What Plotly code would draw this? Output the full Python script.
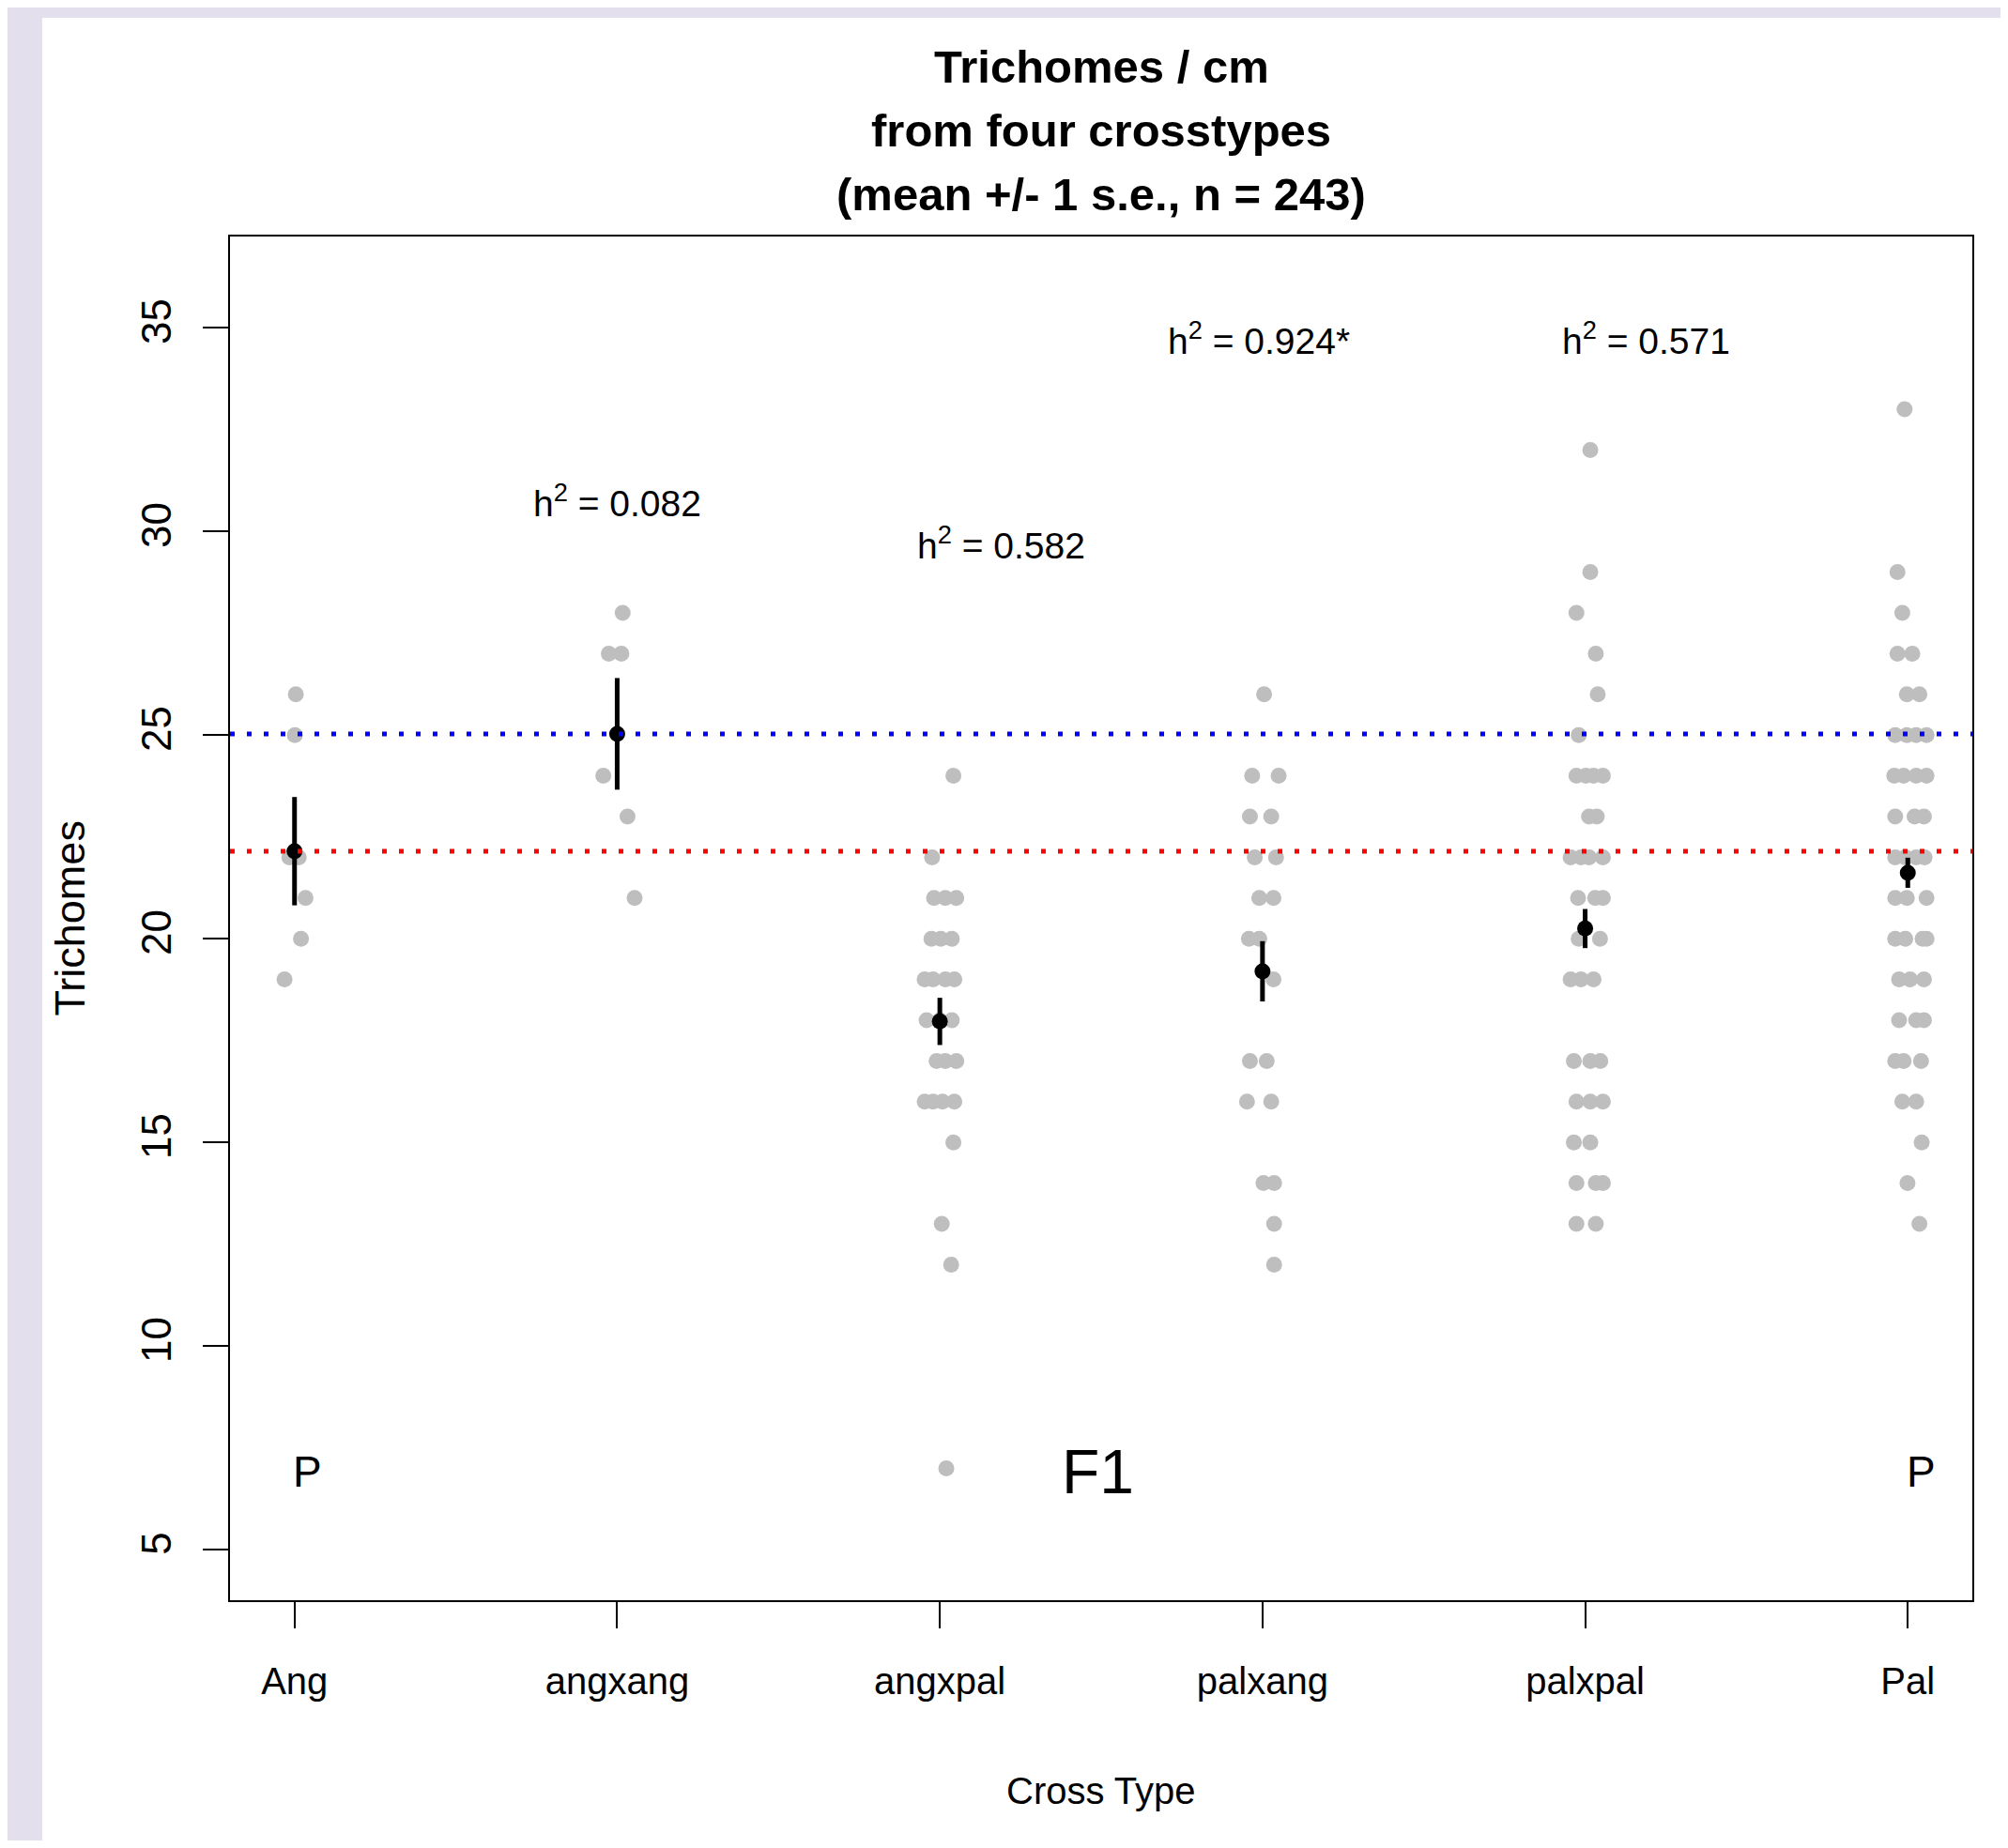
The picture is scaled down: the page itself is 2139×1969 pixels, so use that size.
import plotly.graph_objects as go

# ---------------- data ----------------
categories = ["Ang", "angxang", "angxpal", "palxang", "palxpal", "Pal"]

ang_vals = [26, 25, 22, 22, 21, 20, 19]
ang_jit = [0.004, 0.001, -0.016, 0.013, 0.034, 0.020, -0.031]

angxang_vals = [28, 27, 27, 24, 23, 21]
angxang_jit = [0.017, -0.026, 0.013, -0.043, 0.032, 0.054]

angxpal_vals = [24, 22, 21, 21, 21, 20, 20, 20, 19, 19, 19, 19, 18, 18, 18,
                17, 17, 17, 16, 16, 16, 16, 15, 13, 12, 7]
angxpal_jit = [0.042, -0.024, -0.018, 0.017, 0.051, -0.026, 0.003, 0.037,
               -0.047, -0.021, 0.017, 0.045, -0.041, 0.0, 0.037,
               -0.010, 0.017, 0.051, -0.047, -0.021, 0.008, 0.045,
               0.042, 0.006, 0.035, 0.020]

palxang_vals = [26, 24, 24, 23, 23, 22, 22, 21, 21, 20, 20, 19, 17, 17,
                16, 16, 14, 14, 13, 12]
palxang_jit = [0.005, -0.032, 0.050, -0.039, 0.027, -0.024, 0.042, -0.010,
               0.034, -0.042, -0.010, 0.034, -0.039, 0.013, -0.048, 0.027,
               0.003, 0.036, 0.036, 0.036]

palxpal_vals = [32, 29, 28, 27, 26, 25, 24, 24, 24, 24, 23, 23, 22, 22, 22, 22,
                21, 21, 21, 20, 20, 19, 19, 19, 17, 17, 17, 16, 16, 16,
                15, 15, 14, 14, 14, 13, 13]
palxpal_jit = [0.016, 0.016, -0.027, 0.033, 0.039, -0.020, -0.027, 0.002,
               0.026, 0.055, 0.012, 0.036, -0.045, -0.013, 0.012, 0.055,
               -0.022, 0.031, 0.055, -0.020, 0.046, -0.045, -0.013, 0.026,
               -0.035, 0.016, 0.047, -0.027, 0.016, 0.055, -0.035, 0.016,
               -0.027, 0.033, 0.055, -0.027, 0.033]

pal_vals = [33, 29, 28, 27, 27, 26, 26, 25, 25, 25, 25, 24, 24, 24, 24,
            23, 23, 23, 22, 22, 22, 22, 21, 21, 21, 20, 20, 20, 20,
            19, 19, 19, 18, 18, 18, 17, 17, 17, 16, 16, 15, 14, 13]
pal_jit = [-0.010, -0.032, -0.017, -0.032, 0.014, -0.003, 0.036,
           -0.039, -0.003, 0.026, 0.058, -0.042, -0.013, 0.026, 0.058,
           -0.039, 0.021, 0.050, -0.039, -0.008, 0.026, 0.052,
           -0.039, -0.003, 0.058, -0.039, -0.008, 0.046, 0.058,
           -0.027, 0.007, 0.050, -0.027, 0.026, 0.050, -0.039, -0.013, 0.041,
           -0.017, 0.026, 0.043, -0.001, 0.036]

group_vals = [ang_vals, angxang_vals, angxpal_vals, palxang_vals, palxpal_vals, pal_vals]
group_jit = [ang_jit, angxang_jit, angxpal_jit, palxang_jit, palxpal_jit, pal_jit]

means = [22.15, 25.03, 17.97, 19.20, 20.25, 21.62]
ses = [1.33, 1.37, 0.58, 0.74, 0.48, 0.37]

h2_labels = ["h<sup>2</sup> = 0.082", "h<sup>2</sup> = 0.582",
             "h<sup>2</sup> = 0.924*", "h<sup>2</sup> = 0.571"]
h2_x = [2.0, 3.19, 3.99, 5.19]
h2_y = [30.75, 29.72, 34.75, 34.75]

gen_labels = ["P", "F1", "P"]
gen_x = [1.04, 3.49, 6.04]
gen_y = [6.92, 6.92, 6.92]

yticks = [5, 10, 15, 20, 25, 30, 35]

# ---------------- figure ----------------
FONT = "Liberation Sans, Arial, Helvetica, sans-serif"

fig = go.Figure()

xs, ys = [], []
for i, (vals, jit) in enumerate(zip(group_vals, group_jit)):
    for v, j in zip(vals, jit):
        xs.append(i + 1 + j)
        ys.append(v)

fig.add_trace(go.Scatter(
    x=xs, y=ys, mode="markers",
    marker=dict(color="#BEBEBE", size=17, line=dict(width=0)),
    showlegend=False, hoverinfo="y"))

fig.add_trace(go.Scatter(
    x=list(range(1, len(categories) + 1)), y=means, mode="markers",
    marker=dict(color="black", size=17, line=dict(width=0)),
    error_y=dict(type="data", array=ses, visible=True, color="black",
                 thickness=5, width=0),
    showlegend=False))

# reference lines: parent means (Ang = red, angxang = blue)
fig.add_shape(type="line", xref="paper", x0=0, x1=1, yref="y",
              y0=means[1], y1=means[1], layer="above",
              line=dict(color="#0000FF", width=5, dash="5px,13px"))
fig.add_shape(type="line", xref="paper", x0=0, x1=1, yref="y",
              y0=means[0], y1=means[0], layer="above",
              line=dict(color="#FF0000", width=5, dash="5px,13px"))

# white page area over lavender background
fig.add_shape(type="rect", xref="paper", yref="paper",
              x0=-0.1078, x1=1.1, y0=-0.3, y1=1.1604,
              fillcolor="white", line=dict(width=0), layer="below")

annotations = []
for t, x, y in zip(h2_labels, h2_x, h2_y):
    annotations.append(dict(x=x, y=y, xref="x", yref="y", text=t,
                            showarrow=False, xanchor="center", yanchor="middle",
                            font=dict(family=FONT, size=39, color="black")))
for t, x, y in zip(gen_labels, gen_x, gen_y):
    annotations.append(dict(x=x, y=y, xref="x", yref="y", text=t,
                            showarrow=False, xanchor="center", yanchor="middle",
                            font=dict(family=FONT, size=66 if t == "F1" else 46,
                                      color="black")))

title_lines = ["Trichomes / cm", "from four crosstypes", "(mean +/- 1 s.e., n = 243)"]
title_y = [1.1246, 1.0778, 1.031]
for t, y in zip(title_lines, title_y):
    annotations.append(dict(x=0.5, y=y, xref="paper", yref="paper", text="<b>" + t + "</b>",
                            showarrow=False, xanchor="center", yanchor="middle",
                            font=dict(family=FONT, size=49, color="black")))

annotations.append(dict(x=0.5, y=-0.1395, xref="paper", yref="paper", text="Cross Type",
                        showarrow=False, xanchor="center", yanchor="middle",
                        font=dict(family=FONT, size=40, color="black")))
annotations.append(dict(x=-0.0916, y=0.5, xref="paper", yref="paper", text="Trichomes",
                        showarrow=False, xanchor="center", yanchor="middle", textangle=-90,
                        font=dict(family=FONT, size=45, color="black")))

# page body has an 8px margin: size/margins chosen so the plot box lands where it should
fig.update_layout(
    width=2123, height=1953,
    margin=dict(l=237, r=30, t=244, b=256, pad=0),
    paper_bgcolor="#E4DFEC", plot_bgcolor="white",
    annotations=annotations,
    xaxis=dict(range=[0.8, 6.2], tickmode="array",
               tickvals=list(range(1, len(categories) + 1)), ticktext=categories,
               showgrid=False, zeroline=False, showline=True, mirror=True,
               linecolor="black", linewidth=2, ticks="outside", ticklen=28,
               tickwidth=2, tickcolor="black", ticklabelstandoff=22,
               tickfont=dict(family=FONT, size=40, color="black")),
    yaxis=dict(range=[3.76, 37.24], tickmode="array", tickvals=yticks,
               ticktext=[str(v) for v in yticks],
               showgrid=False, zeroline=False, showline=True, mirror=True,
               linecolor="black", linewidth=2, ticks="outside", ticklen=27,
               tickwidth=2, tickcolor="black", tickangle=-90, ticklabelstandoff=16,
               tickfont=dict(family=FONT, size=44, color="black")),
)

fig.write_html("out.html")
